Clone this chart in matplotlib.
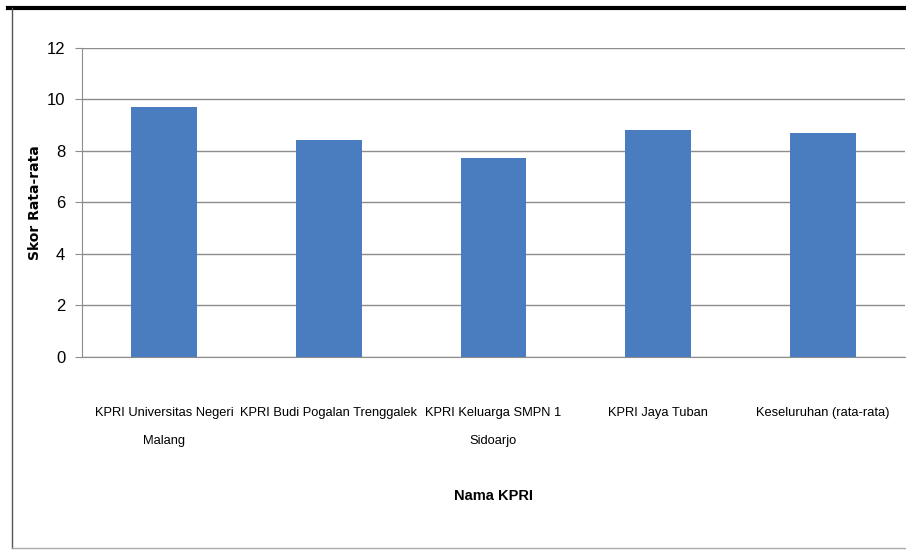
import matplotlib
matplotlib.use('Agg')
import matplotlib.pyplot as plt
import numpy as np
from matplotlib.lines import Line2D

# data
kpri_names = ['KPRI Universitas Negeri\nMalang', 'KPRI Budi Pogalan Trenggalek',
              'KPRI Keluarga SMPN 1\nSidoarjo', 'KPRI Jaya Tuban', 'Keseluruhan (rata-rata)']
skor = [9.71, 8.43, 7.73, 8.82, 8.70]
y_ticks = [0, 2, 4, 6, 8, 10, 12]

narrow = ['Liberation Sans', 'DejaVu Sans']

fig = plt.figure(figsize=(9.06, 5.54), dpi=100)
ax = fig.add_axes([0.0905, 0.3556, 0.9085, 0.5578])

x = np.arange(len(kpri_names))
ax.bar(x, skor, width=0.4, color='#4a7dc0', zorder=3)

ax.set_ylim(0, 12)
ax.set_xlim(-0.5, len(kpri_names) - 0.5)
ax.set_yticks(y_ticks)
ax.set_yticklabels([str(t) for t in y_ticks], fontsize=12, family=narrow)
ax.yaxis.grid(True, color='#8c8c8c', linewidth=1.0, zorder=0)
ax.tick_params(axis='y', length=5, color='#8c8c8c', pad=7)
ax.tick_params(axis='x', length=0, pad=36)
ax.set_xticks(x)
ax.set_xticklabels(kpri_names, fontsize=9.3, family=narrow, linespacing=2.8)

for side in ['top', 'right']:
    ax.spines[side].set_visible(False)
ax.spines['left'].set_color('#8c8c8c')
ax.spines['bottom'].set_color('#8c8c8c')

ax.set_ylabel('Skor Rata-rata', fontsize=10, fontweight='bold')
ax.yaxis.set_label_coords(-0.049, 0.5)
ax.set_xlabel('Nama KPRI', fontsize=10.5, fontweight='bold', family=narrow, labelpad=30)

# outer frame of the screenshot
fig.add_artist(Line2D([0.009, 1.0], [0.986, 0.986], color='black', linewidth=3))
fig.add_artist(Line2D([0.013, 0.013], [0.986, 0.01], color='#555555', linewidth=1))
fig.add_artist(Line2D([0.013, 1.0], [0.01, 0.01], color='#aaaaaa', linewidth=1))

fig.savefig('out.png', dpi=100)
